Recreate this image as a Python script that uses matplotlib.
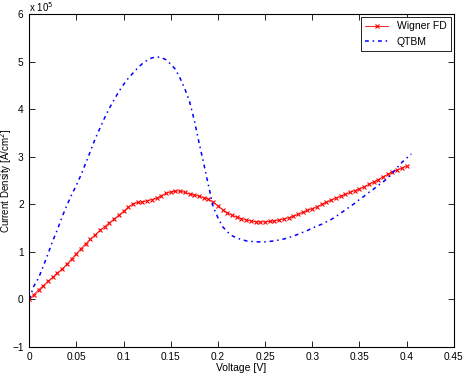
import numpy as np
import matplotlib
matplotlib.use("Agg")
import matplotlib.pyplot as plt

plt.rcParams['font.family'] = ['Liberation Sans', 'DejaVu Sans']

# tension (V), pas de 0.005
v_wigner = np.arange(81) * 0.005
# densité de courant, unités de 1e5 A/cm^2
j_wigner = [0.00, 0.10, 0.20, 0.29, 0.38, 0.47, 0.56, 0.64, 0.74, 0.85,
            0.96, 1.07, 1.17, 1.27, 1.36, 1.45, 1.53, 1.61, 1.69, 1.77,
            1.85, 1.94, 2.01, 2.04, 2.05, 2.07, 2.10, 2.13, 2.18, 2.23,
            2.26, 2.28, 2.28, 2.25, 2.22, 2.20, 2.17, 2.14, 2.11, 2.05,
            1.97, 1.89, 1.82, 1.77, 1.73, 1.70, 1.67, 1.65, 1.63, 1.63,
            1.63, 1.64, 1.65, 1.67, 1.69, 1.72, 1.75, 1.79, 1.83, 1.87,
            1.91, 1.95, 2.00, 2.04, 2.09, 2.13, 2.17, 2.21, 2.25, 2.29,
            2.33, 2.37, 2.42, 2.47, 2.52, 2.58, 2.63, 2.68, 2.72, 2.76,
            2.81]

v_qtbm = np.arange(82) * 0.005
j_qtbm = [0.00, 0.28, 0.45, 0.70, 0.96, 1.23, 1.47, 1.74, 1.98, 2.20,
          2.40, 2.62, 2.87, 3.12, 3.38, 3.60, 3.82, 4.02, 4.20, 4.37,
          4.52, 4.65, 4.76, 4.87, 4.96, 5.03, 5.08, 5.10, 5.09, 5.04,
          4.95, 4.84, 4.65, 4.43, 4.16, 3.77, 3.30, 2.86, 2.40, 1.95,
          1.72, 1.53, 1.42, 1.34, 1.29, 1.26, 1.23, 1.22, 1.21, 1.21,
          1.21, 1.22, 1.23, 1.25, 1.27, 1.30, 1.33, 1.37, 1.41, 1.45,
          1.50, 1.54, 1.58, 1.63, 1.68, 1.74, 1.81, 1.88, 1.95, 2.02,
          2.10, 2.17, 2.25, 2.32, 2.40, 2.47, 2.55, 2.66, 2.77, 2.88,
          2.97, 3.06]

fig = plt.figure(figsize=(4.63, 3.73), dpi=100)
ax = fig.add_axes([0.063, 0.07, 0.917, 0.892])

ax.plot(v_wigner, j_wigner, color='red', marker='x', markersize=3,
        markeredgewidth=0.8, linewidth=0.6, label='Wigner FD')
ax.plot(v_qtbm, j_qtbm, color='blue', linestyle=(0, (2.5, 2.5, 1, 2.5)),
        linewidth=1.1, label='QTBM')

ax.set_xlim(0, 0.45)
ax.set_ylim(-1, 6)
ax.set_xticks(np.arange(0, 0.451, 0.05))
ax.set_xticklabels(['0', '0.05', '0.1', '0.15', '0.2', '0.25', '0.3', '0.35', '0.4', '0.45'])
ax.set_yticks(range(-1, 7))
ax.tick_params(direction='in', top=True, right=True, labelsize=7.3, length=4, width=0.6)
ax.tick_params(axis='y', pad=4)
for s in ax.spines.values():
    s.set_linewidth(0.8)

ax.set_xlabel('Voltage [V]', fontsize=7.5, labelpad=1)
ax.set_ylabel('Current Density [A/cm$^2$]', fontsize=7)
ax.yaxis.set_label_coords(-0.035, 0.5)
ax.text(0.0, 1.0, 'x 10$^5$', transform=ax.transAxes, fontsize=7, va='bottom', ha='left')

leg = ax.legend(loc='upper right', fontsize=7.5, fancybox=False, edgecolor='black',
                handlelength=2.2, borderaxespad=0.3, framealpha=1)
leg.get_frame().set_linewidth(0.6)

fig.savefig('out.png', dpi=100)
